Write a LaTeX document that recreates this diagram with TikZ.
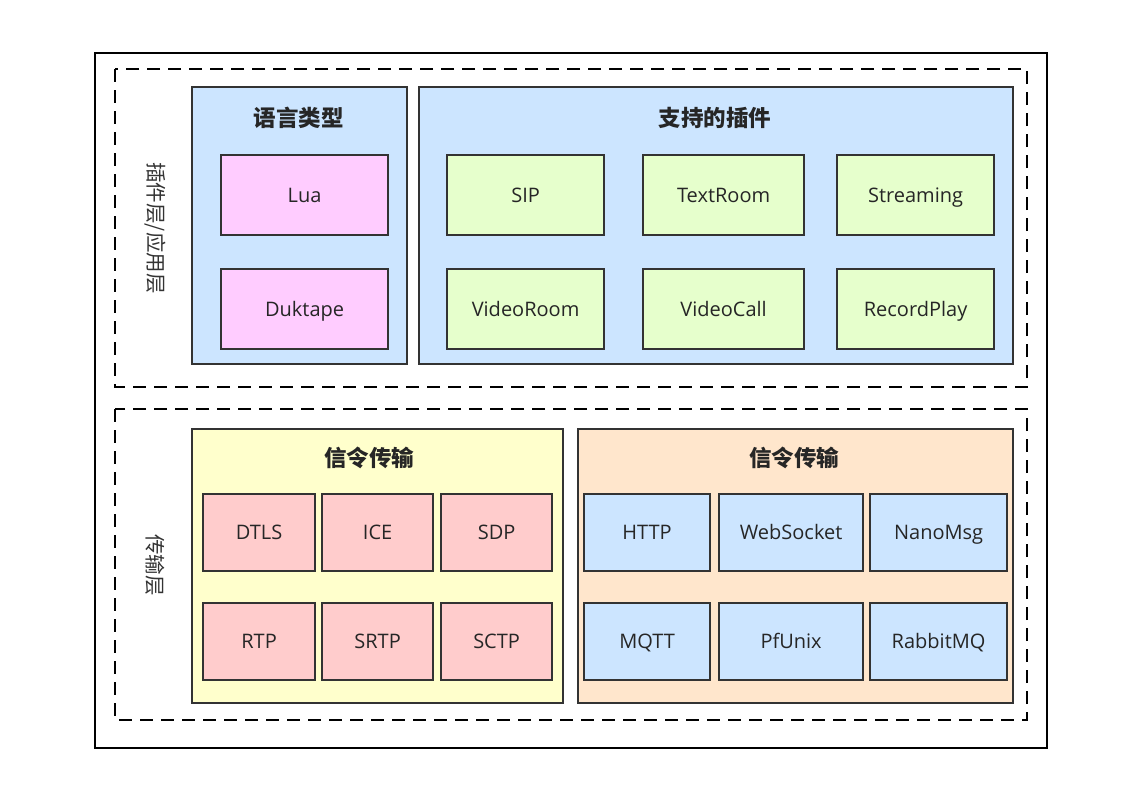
\documentclass[tikz,border=0pt]{standalone}
\usepackage{fontspec}
\setmainfont{Noto Sans CJK SC}
\newfontfamily\latinf{Open Sans}
\begin{document}
\begin{tikzpicture}[x=1pt,y=-1pt,
  frame/.style={draw=black,line width=2pt},
  dashbox/.style={draw=black,line width=2.2pt,dash pattern=on 13pt off 8pt},
  group/.style={draw=black!80,line width=2.2pt,anchor=north west,inner sep=0pt},
  item/.style={draw=black!80,line width=2.2pt,anchor=north west,inner sep=0pt,font=\latinf\fontsize{20}{23}\selectfont,text=black!85,text height=16pt,text depth=2pt},
  ttl/.style={font=\fontsize{22.5}{26}\selectfont\bfseries,text=black!85},
  side/.style={font=\fontsize{20.5}{24}\selectfont,text=black!80,rotate=-90}]
\useasboundingbox (0,0) rectangle (1142,803);
\fill[white] (0,0) rectangle (1142,803);
\draw[frame] (95,53) rectangle (1047,748);
\draw[dashbox] (115,69) rectangle (1027,387);
\draw[dashbox] (115,409) rectangle (1027,720);
\node[side] (l1) at (155,228) {插件层/应用层};
\node[side] (l2) at (155,565) {传输层};
% language
\node[group,fill={rgb,255:red,204;green,229;blue,255},minimum width=215pt,minimum height=277pt] (lang) at (191,86) {};
\node[ttl] (langt) at (298.5,118) {语言类型};
\node[item,fill={rgb,255:red,255;green,204;blue,255},minimum width=167pt,minimum height=80pt] (lua) at (220,154) {Lua};
\node[item,fill={rgb,255:red,255;green,204;blue,255},minimum width=167pt,minimum height=80pt] (duk) at (220,268) {Duktape};
% plugins
\node[group,fill={rgb,255:red,204;green,229;blue,255},minimum width=594pt,minimum height=277pt] (plug) at (418,86) {};
\node[ttl] (plugt) at (715,118) {支持的插件};
\tikzset{gr/.style={item,fill={rgb,255:red,230;green,255;blue,204},minimum height=80pt}}
\node[gr,minimum width=157pt] (sip) at (446,154) {SIP};
\node[gr,minimum width=161pt] (tr) at (642,154) {TextRoom};
\node[gr,minimum width=157pt] (st) at (836,154) {Streaming};
\node[gr,minimum width=157pt] (vr) at (446,268) {VideoRoom};
\node[gr,minimum width=161pt] (vc) at (642,268) {VideoCall};
\node[gr,minimum width=157pt] (rp) at (836,268) {RecordPlay};
% signaling yellow
\node[group,fill={rgb,255:red,255;green,255;blue,204},minimum width=371pt,minimum height=274pt] (sig1) at (191,428) {};
\node[ttl] (sig1t) at (369,458) {信令传输};
\tikzset{rd/.style={item,fill={rgb,255:red,255;green,204;blue,204},minimum width=112pt,minimum height=77pt}}
\node[rd] (dtls) at (202,493) {DTLS};
\node[rd,minimum width=111pt] (ice) at (321,493) {ICE};
\node[rd,minimum width=111pt] (sdp) at (440,493) {SDP};
\node[rd] (rtp) at (202,602) {RTP};
\node[rd,minimum width=111pt] (srtp) at (321,602) {SRTP};
\node[rd,minimum width=111pt] (sctp) at (440,602) {SCTP};
% signaling orange
\node[group,fill={rgb,255:red,255;green,230;blue,204},minimum width=435pt,minimum height=274pt] (sig2) at (577,428) {};
\node[ttl] (sig2t) at (794,458) {信令传输};
\tikzset{bl/.style={item,fill={rgb,255:red,204;green,229;blue,255},minimum height=77pt}}
\node[bl,minimum width=126pt] (http) at (583,493) {HTTP};
\node[bl,minimum width=144pt] (ws) at (718,493) {WebSocket};
\node[bl,minimum width=137pt] (nm) at (869,493) {NanoMsg};
\node[bl,minimum width=126pt] (mqtt) at (583,602) {MQTT};
\node[bl,minimum width=144pt] (pf) at (718,602) {PfUnix};
\node[bl,minimum width=137pt] (rmq) at (869,602) {RabbitMQ};
\end{tikzpicture}
\end{document}
